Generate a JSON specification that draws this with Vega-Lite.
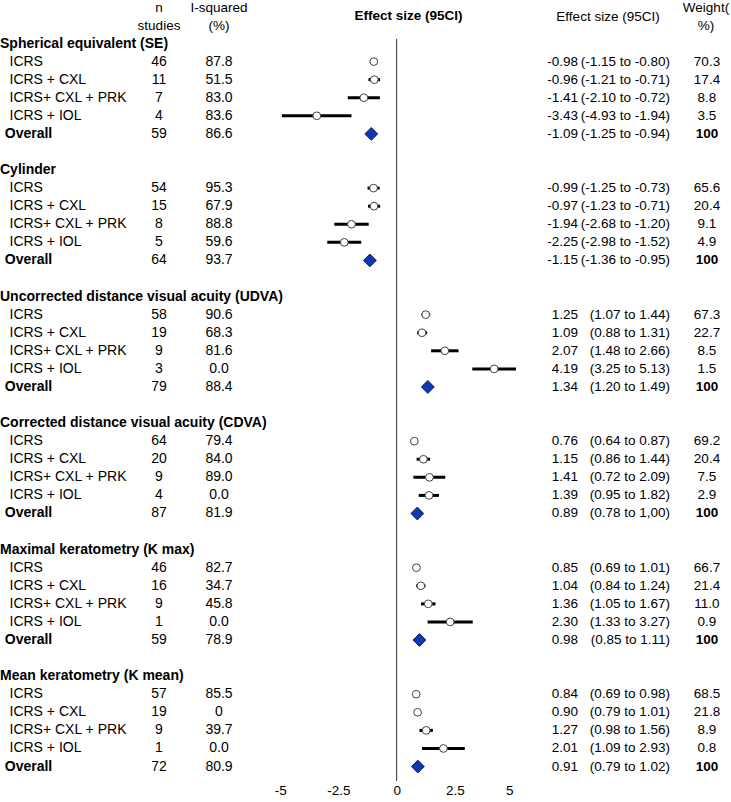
{
  "$schema": "https://vega.github.io/schema/vega-lite/v6.json",
  "background": "white",
  "padding": {"left": 0, "top": 0, "right": 0, "bottom": 0},
  "bounds": "flush",
  "spacing": 0,
  "config": {
    "view": {"stroke": null},
    "text": {"font": "Liberation Sans", "fontSize": 13.5, "color": "black"},
    "title": {"font": "Liberation Sans", "fontSize": 13.5, "fontWeight": "normal", "color": "black", "lineHeight": 18, "baseline": "bottom", "anchor": "middle"}
  },
  "data": {"values": [
    {"row": 0, "kind": "group", "label": "Spherical equivalent (SE)"},
    {"row": 1, "kind": "item", "label": "ICRS", "n": 46, "i2": "87.8", "es": -0.98, "lo": -1.15, "hi": -0.80, "est": "-0.98", "ci": "(-1.15 to -0.80)", "w": "70.3"},
    {"row": 2, "kind": "item", "label": "ICRS + CXL", "n": 11, "i2": "51.5", "es": -0.96, "lo": -1.21, "hi": -0.71, "est": "-0.96", "ci": "(-1.21 to -0.71)", "w": "17.4"},
    {"row": 3, "kind": "item", "label": "ICRS+ CXL + PRK", "n": 7, "i2": "83.0", "es": -1.41, "lo": -2.10, "hi": -0.72, "est": "-1.41", "ci": "(-2.10 to -0.72)", "w": "8.8"},
    {"row": 4, "kind": "item", "label": "ICRS + IOL", "n": 4, "i2": "83.6", "es": -3.43, "lo": -4.93, "hi": -1.94, "est": "-3.43", "ci": "(-4.93 to -1.94)", "w": "3.5"},
    {"row": 5, "kind": "overall", "label": "Overall", "n": 59, "i2": "86.6", "es": -1.09, "lo": -1.25, "hi": -0.94, "est": "-1.09", "ci": "(-1.25 to -0.94)", "w": "100"},
    {"row": 7, "kind": "group", "label": "Cylinder"},
    {"row": 8, "kind": "item", "label": "ICRS", "n": 54, "i2": "95.3", "es": -0.99, "lo": -1.25, "hi": -0.73, "est": "-0.99", "ci": "(-1.25 to -0.73)", "w": "65.6"},
    {"row": 9, "kind": "item", "label": "ICRS + CXL", "n": 15, "i2": "67.9", "es": -0.97, "lo": -1.23, "hi": -0.71, "est": "-0.97", "ci": "(-1.23 to -0.71)", "w": "20.4"},
    {"row": 10, "kind": "item", "label": "ICRS+ CXL + PRK", "n": 8, "i2": "88.8", "es": -1.94, "lo": -2.68, "hi": -1.20, "est": "-1.94", "ci": "(-2.68 to -1.20)", "w": "9.1"},
    {"row": 11, "kind": "item", "label": "ICRS + IOL", "n": 5, "i2": "59.6", "es": -2.25, "lo": -2.98, "hi": -1.52, "est": "-2.25", "ci": "(-2.98 to -1.52)", "w": "4.9"},
    {"row": 12, "kind": "overall", "label": "Overall", "n": 64, "i2": "93.7", "es": -1.15, "lo": -1.36, "hi": -0.95, "est": "-1.15", "ci": "(-1.36 to -0.95)", "w": "100"},
    {"row": 14, "kind": "group", "label": "Uncorrected distance visual acuity (UDVA)"},
    {"row": 15, "kind": "item", "label": "ICRS", "n": 58, "i2": "90.6", "es": 1.25, "lo": 1.07, "hi": 1.44, "est": "1.25", "ci": "(1.07 to 1.44)", "w": "67.3"},
    {"row": 16, "kind": "item", "label": "ICRS + CXL", "n": 19, "i2": "68.3", "es": 1.09, "lo": 0.88, "hi": 1.31, "est": "1.09", "ci": "(0.88 to 1.31)", "w": "22.7"},
    {"row": 17, "kind": "item", "label": "ICRS+ CXL + PRK", "n": 9, "i2": "81.6", "es": 2.07, "lo": 1.48, "hi": 2.66, "est": "2.07", "ci": "(1.48 to 2.66)", "w": "8.5"},
    {"row": 18, "kind": "item", "label": "ICRS + IOL", "n": 3, "i2": "0.0", "es": 4.19, "lo": 3.25, "hi": 5.13, "est": "4.19", "ci": "(3.25 to 5.13)", "w": "1.5"},
    {"row": 19, "kind": "overall", "label": "Overall", "n": 79, "i2": "88.4", "es": 1.34, "lo": 1.20, "hi": 1.49, "est": "1.34", "ci": "(1.20 to 1.49)", "w": "100"},
    {"row": 21, "kind": "group", "label": "Corrected distance visual acuity (CDVA)"},
    {"row": 22, "kind": "item", "label": "ICRS", "n": 64, "i2": "79.4", "es": 0.76, "lo": 0.64, "hi": 0.87, "est": "0.76", "ci": "(0.64 to 0.87)", "w": "69.2"},
    {"row": 23, "kind": "item", "label": "ICRS + CXL", "n": 20, "i2": "84.0", "es": 1.15, "lo": 0.86, "hi": 1.44, "est": "1.15", "ci": "(0.86 to 1.44)", "w": "20.4"},
    {"row": 24, "kind": "item", "label": "ICRS+ CXL + PRK", "n": 9, "i2": "89.0", "es": 1.41, "lo": 0.72, "hi": 2.09, "est": "1.41", "ci": "(0.72 to 2.09)", "w": "7.5"},
    {"row": 25, "kind": "item", "label": "ICRS + IOL", "n": 4, "i2": "0.0", "es": 1.39, "lo": 0.95, "hi": 1.82, "est": "1.39", "ci": "(0.95 to 1.82)", "w": "2.9"},
    {"row": 26, "kind": "overall", "label": "Overall", "n": 87, "i2": "81.9", "es": 0.89, "lo": 0.78, "hi": 1.00, "est": "0.89", "ci": "(0.78 to 1,00)", "w": "100"},
    {"row": 28, "kind": "group", "label": "Maximal keratometry (K max)"},
    {"row": 29, "kind": "item", "label": "ICRS", "n": 46, "i2": "82.7", "es": 0.85, "lo": 0.69, "hi": 1.01, "est": "0.85", "ci": "(0.69 to 1.01)", "w": "66.7"},
    {"row": 30, "kind": "item", "label": "ICRS + CXL", "n": 16, "i2": "34.7", "es": 1.04, "lo": 0.84, "hi": 1.24, "est": "1.04", "ci": "(0.84 to 1.24)", "w": "21.4"},
    {"row": 31, "kind": "item", "label": "ICRS+ CXL + PRK", "n": 9, "i2": "45.8", "es": 1.36, "lo": 1.05, "hi": 1.67, "est": "1.36", "ci": "(1.05 to 1.67)", "w": "11.0"},
    {"row": 32, "kind": "item", "label": "ICRS + IOL", "n": 1, "i2": "0.0", "es": 2.30, "lo": 1.33, "hi": 3.27, "est": "2.30", "ci": "(1.33 to 3.27)", "w": "0.9"},
    {"row": 33, "kind": "overall", "label": "Overall", "n": 59, "i2": "78.9", "es": 0.98, "lo": 0.85, "hi": 1.11, "est": "0.98", "ci": "(0.85 to 1.11)", "w": "100"},
    {"row": 35, "kind": "group", "label": "Mean keratometry (K mean)"},
    {"row": 36, "kind": "item", "label": "ICRS", "n": 57, "i2": "85.5", "es": 0.84, "lo": 0.69, "hi": 0.98, "est": "0.84", "ci": "(0.69 to 0.98)", "w": "68.5"},
    {"row": 37, "kind": "item", "label": "ICRS + CXL", "n": 19, "i2": "0", "es": 0.90, "lo": 0.79, "hi": 1.01, "est": "0.90", "ci": "(0.79 to 1.01)", "w": "21.8"},
    {"row": 38, "kind": "item", "label": "ICRS+ CXL + PRK", "n": 9, "i2": "39.7", "es": 1.27, "lo": 0.98, "hi": 1.56, "est": "1.27", "ci": "(0.98 to 1.56)", "w": "8.9"},
    {"row": 39, "kind": "item", "label": "ICRS + IOL", "n": 1, "i2": "0.0", "es": 2.01, "lo": 1.09, "hi": 2.93, "est": "2.01", "ci": "(1.09 to 2.93)", "w": "0.8"},
    {"row": 40, "kind": "overall", "label": "Overall", "n": 72, "i2": "80.9", "es": 0.91, "lo": 0.79, "hi": 1.02, "est": "0.91", "ci": "(0.79 to 1.02)", "w": "100"}
  ]},
  "resolve": {"scale": {"y": "shared", "x": "independent"}},
  "hconcat": [
    {
      "width": 130, "height": 742,
      "layer": [
        {"transform": [{"filter": "datum.kind !== 'item'"}],
         "mark": {"type": "text", "align": "left", "fontWeight": "bold", "fontSize": 14},
         "encoding": {
           "x": {"field": "kind", "type": "ordinal", "scale": {"type": "point", "domain": ["group", "overall", "item"], "range": [0, 9.5], "padding": 0}, "axis": null},
           "y": {"field": "row", "type": "quantitative", "scale": {"domain": [-0.25, 40.8], "reverse": true, "nice": false, "zero": false}, "axis": null},
           "text": {"field": "label"}}},
        {"transform": [{"filter": "datum.kind === 'item'"}],
         "mark": {"type": "text", "align": "left", "fontSize": 14},
         "encoding": {
           "x": {"field": "kind", "type": "ordinal", "scale": {"type": "point", "domain": ["group", "overall", "item"], "range": [0, 9.5], "padding": 0}, "axis": null},
           "y": {"field": "row", "type": "quantitative", "scale": {"domain": [-0.25, 40.8], "reverse": true, "nice": false, "zero": false}, "axis": null},
           "text": {"field": "label"}}}
      ]
    },
    {
      "width": 58, "height": 742,
      "title": {"text": ["n", "studies"], "offset": 7},
      "transform": [{"filter": "datum.kind !== 'group'"}],
      "mark": {"type": "text", "align": "center", "fontSize": 14},
      "encoding": {
        "y": {"field": "row", "type": "quantitative", "scale": {"domain": [-0.25, 40.8], "reverse": true, "nice": false, "zero": false}, "axis": null},
        "text": {"field": "n", "type": "nominal"}}
    },
    {
      "width": 62, "height": 742,
      "title": {"text": ["I-squared", "(%)"], "offset": 7},
      "transform": [{"filter": "datum.kind !== 'group'"}],
      "mark": {"type": "text", "align": "center", "fontSize": 14},
      "encoding": {
        "y": {"field": "row", "type": "quantitative", "scale": {"domain": [-0.25, 40.8], "reverse": true, "nice": false, "zero": false}, "axis": null},
        "text": {"field": "i2", "type": "nominal"}}
    },
    {
      "width": 263, "height": 742,
      "title": {"text": "Effect size (95CI)", "fontWeight": "bold", "offset": 16, "dx": 27},
      "layer": [
        {"data": {"values": [{"zero": 0}]},
         "mark": {"type": "rule", "color": "#333333", "strokeWidth": 1},
         "encoding": {
           "x": {"field": "zero", "type": "quantitative", "scale": {"domain": [-6.3, 5], "nice": false, "zero": false},
                 "axis": {"values": [-5, -2.5, 0, 2.5, 5], "labelExpr": "'' + datum.value", "domain": false, "ticks": false, "grid": false, "title": null, "labelFont": "Liberation Sans", "labelFontSize": 13.5, "labelColor": "black", "labelPadding": 2}}}},
        {"transform": [{"filter": "datum.kind === 'item'"}],
         "mark": {"type": "rule", "color": "black", "strokeWidth": 3},
         "encoding": {
           "x": {"field": "lo", "type": "quantitative"},
           "x2": {"field": "hi"},
           "y": {"field": "row", "type": "quantitative", "scale": {"domain": [-0.25, 40.8], "reverse": true, "nice": false, "zero": false}, "axis": null}}},
        {"transform": [{"filter": "datum.kind === 'item'"}],
         "mark": {"type": "circle", "fill": "white", "stroke": "#444444", "strokeWidth": 1, "size": 60, "opacity": 1},
         "encoding": {
           "x": {"field": "es", "type": "quantitative"},
           "y": {"field": "row", "type": "quantitative", "scale": {"domain": [-0.25, 40.8], "reverse": true, "nice": false, "zero": false}, "axis": null}}},
        {"transform": [{"filter": "datum.kind === 'overall'"}],
         "mark": {"type": "point", "shape": "diamond", "filled": true, "fill": "#1038b0", "stroke": "#0a1f66", "strokeWidth": 1, "size": 165, "opacity": 1},
         "encoding": {
           "x": {"field": "es", "type": "quantitative"},
           "y": {"field": "row", "type": "quantitative", "scale": {"domain": [-0.25, 40.8], "reverse": true, "nice": false, "zero": false}, "axis": null}}}
      ]
    },
    {
      "width": 130, "height": 742,
      "title": {"text": "Effect size (95CI)", "offset": 16, "dx": 30},
      "transform": [{"filter": "datum.kind !== 'group'"}],
      "mark": {"type": "text", "align": "right"},
      "encoding": {
        "y": {"field": "row", "type": "quantitative", "scale": {"domain": [-0.25, 40.8], "reverse": true, "nice": false, "zero": false}, "axis": null},
        "text": {"field": "est", "type": "nominal"}}
    },
    {
      "width": 54, "height": 742,
      "transform": [{"filter": "datum.kind !== 'group'"}],
      "mark": {"type": "text", "align": "right"},
      "encoding": {
        "y": {"field": "row", "type": "quantitative", "scale": {"domain": [-0.25, 40.8], "reverse": true, "nice": false, "zero": false}, "axis": null},
        "text": {"field": "ci", "type": "nominal"}}
    },
    {
      "width": 20, "height": 742,
      "title": {"text": ["Weight(", "%)"], "offset": 7, "dx": -1},
      "layer": [
        {"transform": [{"filter": "datum.kind === 'item'"}],
         "mark": {"type": "text", "align": "center"},
         "encoding": {
           "y": {"field": "row", "type": "quantitative", "scale": {"domain": [-0.25, 40.8], "reverse": true, "nice": false, "zero": false}, "axis": null},
           "text": {"field": "w", "type": "nominal"}}},
        {"transform": [{"filter": "datum.kind === 'overall'"}],
         "mark": {"type": "text", "align": "center", "fontWeight": "bold"},
         "encoding": {
           "y": {"field": "row", "type": "quantitative", "scale": {"domain": [-0.25, 40.8], "reverse": true, "nice": false, "zero": false}, "axis": null},
           "text": {"field": "w", "type": "nominal"}}}
      ]
    }
  ]
}
